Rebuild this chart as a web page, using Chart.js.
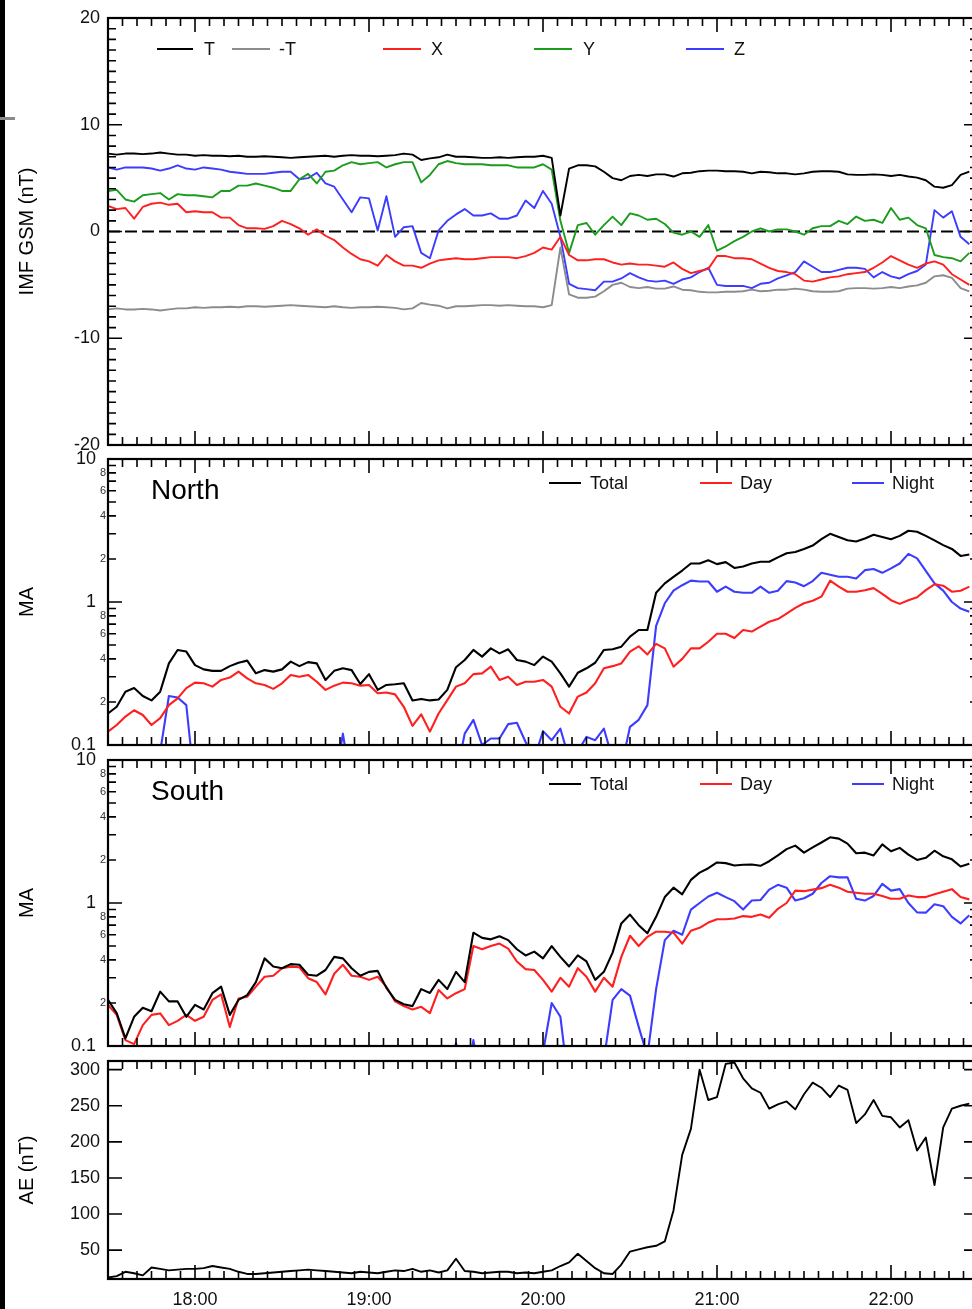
<!DOCTYPE html>
<html>
<head>
<meta charset="utf-8">
<title>IMF, field-aligned currents and AE</title>
<script src="https://cdn.jsdelivr.net/npm/chart.js@4.4.1/dist/chart.umd.min.js"></script>
<style>
  html, body { margin: 0; padding: 0; background: #fff; overflow: hidden; }
  #page { position: relative; width: 972px; height: 1309px; overflow: hidden; background: #fff; }
  #page canvas { position: absolute; left: 0; }
  .edge { position: absolute; left: 0; top: 0; width: 5px; height: 1309px; background: #000; }
  .nick { position: absolute; left: 0; top: 117px; width: 15px; height: 3px; background: #8a8a8a; }
</style>
</head>
<body>
<div id="page">
  <canvas id="imfChart" width="980" height="458" style="top:0"></canvas>
  <canvas id="northChart" width="980" height="310" style="top:446px"></canvas>
  <canvas id="southChart" width="980" height="308" style="top:748px"></canvas>
  <canvas id="aeChart" width="980" height="259" style="top:1050px"></canvas>
  <div class="edge"></div>
  <div class="nick"></div>
</div>
<script>
const FONT = "'Liberation Sans', Arial, Helvetica, sans-serif";

// time axis in minutes of day, samples every 3 min from 17:30
const T_START = 1050;
const T_END = 1350;
const T_STEP = 3;

const hourTicks = [1080, 1140, 1200, 1260, 1320];
const imfTicks = [-20, -10, 0, 10, 20];
const logTicks = [0.1, 0.2, 0.4, 0.6, 0.8, 1, 2, 4, 6, 8, 10];
const logMinor = [0.3, 0.5, 0.7, 0.9, 3, 5, 7, 9];
const logMajor = [0.1, 1, 10];
const aeTicks = [50, 100, 150, 200, 250, 300];

// IMF GSM components (nT)
const imfT = [
  7.3, 7.2, 7.3, 7.3, 7.25, 7.3, 7.4, 7.3, 7.2, 7.2,
  7.1, 7.15, 7.1, 7.1, 7.05, 7.1, 7.0, 7.0, 7.05, 7.0,
  6.95, 6.9, 6.95, 7.0, 7.05, 7.1, 7.0, 7.1, 7.15, 7.1,
  7.1, 7.05, 7.1, 7.15, 7.3, 7.2, 6.7, 6.85, 6.95, 7.2,
  7.0, 7.0, 6.95, 6.9, 6.9, 6.95, 6.9, 6.95, 7.0, 7.0,
  7.1, 6.9, 1.5, 5.9, 6.2, 6.2, 6.1, 5.6, 5.0, 4.8,
  5.2, 5.3, 5.2, 5.35, 5.35, 5.15, 5.45, 5.5, 5.65, 5.7,
  5.7, 5.65, 5.65, 5.6, 5.45, 5.6, 5.55, 5.45, 5.45, 5.35,
  5.45, 5.6, 5.65, 5.65, 5.6, 5.35, 5.3, 5.3, 5.35, 5.3,
  5.2, 5.3, 5.15, 5.05, 4.8, 4.2, 4.1, 4.35, 5.3, 5.6
];
const imfNegT = [
  -7.3, -7.2, -7.3, -7.3, -7.25, -7.3, -7.4, -7.3, -7.2, -7.2,
  -7.1, -7.15, -7.1, -7.1, -7.05, -7.1, -7.0, -7.0, -7.05, -7.0,
  -6.95, -6.9, -6.95, -7.0, -7.05, -7.1, -7.0, -7.1, -7.15, -7.1,
  -7.1, -7.05, -7.1, -7.15, -7.3, -7.2, -6.7, -6.85, -6.95, -7.2,
  -7.0, -7.0, -6.95, -6.9, -6.9, -6.95, -6.9, -6.95, -7.0, -7.0,
  -7.1, -6.9, -1.5, -5.9, -6.2, -6.2, -6.1, -5.6, -5.0, -4.8,
  -5.2, -5.3, -5.2, -5.35, -5.35, -5.15, -5.45, -5.5, -5.65, -5.7,
  -5.7, -5.65, -5.65, -5.6, -5.45, -5.6, -5.55, -5.45, -5.45, -5.35,
  -5.45, -5.6, -5.65, -5.65, -5.6, -5.35, -5.3, -5.3, -5.35, -5.3,
  -5.2, -5.3, -5.15, -5.05, -4.8, -4.2, -4.1, -4.35, -5.3, -5.6
];
const imfX = [
  2.4, 2.1, 2.2, 1.2, 2.3, 2.6, 2.7, 2.5, 2.6, 1.8,
  1.9, 1.8, 1.8, 1.3, 1.3, 0.6, 0.3, 0.3, 0.25, 0.5,
  1.0, 0.7, 0.3, -0.3, 0.2, -0.4, -0.8, -1.5, -2.1, -2.6,
  -2.8, -3.2, -2.2, -2.8, -3.2, -3.2, -3.4, -3.0, -2.7, -2.6,
  -2.5, -2.6, -2.6, -2.5, -2.4, -2.4, -2.4, -2.5, -2.3, -2.0,
  -1.5, -1.7, -0.5, -2.2, -2.7, -2.7, -2.6, -2.6, -2.9, -3.1,
  -3.0, -3.1, -3.1, -3.2, -3.3, -2.9, -3.5, -3.9, -3.7, -3.5,
  -2.3, -2.3, -2.5, -2.5, -2.6, -3.0, -3.4, -3.7, -3.8, -4.0,
  -4.6, -4.7, -4.5, -4.3, -4.2, -4.0, -3.9, -3.8, -3.4, -2.9,
  -2.3, -2.7, -3.1, -3.4, -3.0, -2.8, -3.1, -4.0, -4.5, -5.0
];
const imfY = [
  3.8, 3.9, 3.0, 2.8, 3.4, 3.5, 3.6, 3.0, 3.5, 3.4,
  3.4, 3.3, 3.2, 3.8, 3.8, 4.3, 4.3, 4.5, 4.3, 4.1,
  3.8, 3.8, 4.9, 5.4, 4.5, 5.6, 5.7, 6.2, 6.5, 6.3,
  6.4, 6.5, 6.0, 6.3, 6.5, 6.5, 4.6, 5.3, 6.3, 6.6,
  6.4, 6.3, 6.3, 6.3, 6.2, 6.2, 6.2, 6.0, 6.0, 6.0,
  6.3, 5.8, 1.0, -2.0, 0.6, 0.8, -0.3, 0.6, 1.4, 0.6,
  1.7, 1.5, 1.1, 1.2, 0.7, -0.1, -0.3, 0.0, -0.5, 0.6,
  -1.8, -1.4, -0.9, -0.5, 0.0, 0.3, 0.0, 0.2, 0.2, 0.0,
  -0.3, 0.3, 0.5, 0.5, 1.0, 0.7, 1.4, 1.0, 1.1, 0.8,
  2.2, 1.1, 1.3, 0.6, 0.3, -2.2, -2.4, -2.5, -2.8, -2.0
];
const imfZ = [
  6.0, 5.8, 6.0, 6.0, 6.0, 5.9, 5.7, 5.9, 6.2, 5.9,
  5.8, 6.0, 5.9, 5.8, 5.6, 5.5, 5.4, 5.4, 5.4, 5.5,
  5.6, 5.6, 4.9, 5.0, 5.5, 4.5, 4.2, 3.0, 1.8, 3.2,
  3.1, 0.1, 3.3, -0.5, 0.4, 0.5, -2.0, -2.5, 0.1, 1.0,
  1.6, 2.1, 1.5, 1.5, 1.7, 1.2, 1.2, 1.5, 2.9, 2.2,
  3.8, 2.6, -0.5, -4.9, -5.3, -5.4, -5.5, -4.7, -4.7, -4.4,
  -3.9, -4.3, -4.6, -4.7, -4.6, -4.9, -4.5, -4.3, -3.8, -3.4,
  -5.0, -5.1, -5.1, -5.1, -5.3, -4.9, -4.8, -4.4, -4.1, -3.8,
  -2.8, -3.3, -3.8, -3.8, -3.6, -3.4, -3.4, -3.5, -4.3, -3.8,
  -4.2, -4.4, -4.0, -3.7, -3.1, 2.0, 1.3, 1.9, -0.5, -1.2
];

// northern hemisphere currents (MA); values under 0.1 run off the axis
const northTotal = [
  0.166, 0.185, 0.236, 0.25, 0.22, 0.205, 0.236, 0.372, 0.462, 0.45,
  0.362, 0.338, 0.33, 0.33, 0.356, 0.376, 0.389, 0.317, 0.334, 0.326,
  0.338, 0.383, 0.356, 0.38, 0.372, 0.285, 0.33, 0.344, 0.334, 0.267,
  0.313, 0.243, 0.263, 0.266, 0.27, 0.205, 0.21, 0.205, 0.208, 0.243,
  0.35, 0.393, 0.462, 0.415, 0.474, 0.437, 0.467, 0.393, 0.383, 0.362,
  0.415, 0.383, 0.317, 0.256, 0.32, 0.344, 0.376, 0.462, 0.467, 0.487,
  0.573, 0.637, 0.637, 1.16, 1.35, 1.5, 1.66, 1.86, 1.86, 1.96,
  1.84, 1.9, 1.73, 1.77, 1.86, 1.91, 1.91, 2.05, 2.19, 2.24,
  2.35, 2.48, 2.75, 3.0, 2.85, 2.7, 2.65, 2.78, 2.95, 2.85,
  2.75, 2.9, 3.15, 3.1, 2.9, 2.7, 2.5, 2.35, 2.1, 2.15
];
const northDay = [
  0.124, 0.138, 0.158, 0.175, 0.162, 0.138, 0.154, 0.19, 0.212, 0.25,
  0.273, 0.27, 0.256, 0.285, 0.296, 0.326, 0.292, 0.27, 0.263, 0.247,
  0.27, 0.309, 0.30, 0.309, 0.277, 0.243, 0.26, 0.273, 0.27, 0.26,
  0.263, 0.23, 0.233, 0.226, 0.185, 0.136, 0.164, 0.124, 0.166, 0.206,
  0.256, 0.27, 0.313, 0.317, 0.353, 0.285, 0.30, 0.263, 0.277, 0.277,
  0.285, 0.256, 0.185, 0.166, 0.218, 0.233, 0.27, 0.344, 0.356, 0.372,
  0.45, 0.49, 0.43, 0.51, 0.474, 0.353, 0.40, 0.474, 0.474, 0.527,
  0.6, 0.6, 0.56, 0.637, 0.621, 0.673, 0.728, 0.76, 0.83, 0.91,
  0.98, 1.02, 1.09, 1.41, 1.28, 1.18, 1.18, 1.21, 1.25, 1.14,
  1.03, 0.97, 1.03, 1.08, 1.21, 1.33, 1.3, 1.18, 1.2, 1.28
];
const northNight = [
  0.05, 0.05, 0.05, 0.05, 0.05, 0.05, 0.09, 0.22, 0.215, 0.19,
  0.05, 0.05, 0.05, 0.05, 0.05, 0.05, 0.05, 0.05, 0.05, 0.05,
  0.05, 0.05, 0.05, 0.05, 0.05, 0.05, 0.05, 0.12, 0.05, 0.05,
  0.05, 0.05, 0.05, 0.05, 0.05, 0.05, 0.05, 0.05, 0.05, 0.05,
  0.06, 0.12, 0.15, 0.10, 0.111, 0.111, 0.14, 0.143, 0.105, 0.08,
  0.125, 0.108, 0.13, 0.08, 0.09, 0.114, 0.108, 0.13, 0.08, 0.07,
  0.134, 0.15, 0.19, 0.68, 0.98, 1.2, 1.31, 1.41, 1.39, 1.39,
  1.18, 1.28, 1.18, 1.16, 1.16, 1.28, 1.16, 1.2, 1.4, 1.37,
  1.29, 1.4, 1.6, 1.55, 1.5, 1.5, 1.46, 1.67, 1.7, 1.6,
  1.72, 1.86, 2.17, 2.02, 1.65, 1.35, 1.2, 1.0, 0.9, 0.856
];

// southern hemisphere currents (MA)
const southTotal = [
  0.21, 0.17, 0.113, 0.16, 0.185, 0.175, 0.24, 0.205, 0.205, 0.16,
  0.194, 0.18, 0.234, 0.26, 0.165, 0.21, 0.227, 0.28, 0.41, 0.36,
  0.35, 0.374, 0.37, 0.315, 0.31, 0.34, 0.42, 0.41, 0.35, 0.31,
  0.33, 0.335, 0.255, 0.21, 0.196, 0.19, 0.25, 0.235, 0.29, 0.25,
  0.33, 0.28, 0.62, 0.57, 0.557, 0.585, 0.55, 0.475, 0.43, 0.457,
  0.41, 0.5, 0.42, 0.36, 0.43, 0.39, 0.29, 0.33, 0.45, 0.72,
  0.83, 0.7, 0.614, 0.8, 1.1, 1.28, 1.15, 1.45, 1.63, 1.75,
  1.92, 1.9, 1.83, 1.85, 1.86, 1.82, 1.96, 2.15, 2.38, 2.52,
  2.25, 2.45, 2.65, 2.88, 2.82, 2.6, 2.23, 2.25, 2.15, 2.57,
  2.3, 2.43, 2.18, 2.0, 2.07, 2.32, 2.12, 2.02, 1.8, 1.88
];
const southDay = [
  0.194, 0.165, 0.11, 0.103, 0.14, 0.165, 0.169, 0.14, 0.15, 0.165,
  0.15, 0.16, 0.21, 0.23, 0.136, 0.215, 0.221, 0.26, 0.305, 0.31,
  0.35, 0.359, 0.355, 0.298, 0.28, 0.23, 0.32, 0.37, 0.31, 0.305,
  0.29, 0.305, 0.26, 0.205, 0.19, 0.18, 0.188, 0.17, 0.246, 0.215,
  0.234, 0.25, 0.5, 0.475, 0.5, 0.52, 0.48, 0.39, 0.345, 0.34,
  0.29, 0.24, 0.3, 0.26, 0.35, 0.305, 0.24, 0.3, 0.26, 0.42,
  0.59, 0.5, 0.58, 0.63, 0.63, 0.62, 0.52, 0.64, 0.67, 0.73,
  0.77, 0.77, 0.78, 0.81, 0.8, 0.83, 0.79, 0.91, 1.0, 1.22,
  1.21, 1.24, 1.27, 1.34, 1.28, 1.2, 1.18, 1.16, 1.16, 1.12,
  1.07, 1.07, 1.13, 1.1, 1.1, 1.15, 1.2, 1.25, 1.1, 1.06
];
const southNight = [
  0.05, 0.05, 0.05, 0.05, 0.05, 0.05, 0.05, 0.05, 0.05, 0.05,
  0.05, 0.05, 0.05, 0.05, 0.05, 0.05, 0.05, 0.05, 0.05, 0.05,
  0.05, 0.05, 0.05, 0.05, 0.05, 0.05, 0.05, 0.05, 0.05, 0.05,
  0.05, 0.05, 0.05, 0.05, 0.05, 0.05, 0.05, 0.05, 0.05, 0.05,
  0.105, 0.05, 0.11, 0.05, 0.05, 0.05, 0.05, 0.05, 0.05, 0.06,
  0.09, 0.2, 0.16, 0.05, 0.05, 0.05, 0.05, 0.08, 0.21, 0.25,
  0.225, 0.136, 0.085, 0.25, 0.55, 0.64, 0.6, 0.9, 1.0, 1.11,
  1.18, 1.1, 1.03, 0.9, 1.04, 1.05, 1.24, 1.34, 1.28, 1.04,
  1.08, 1.16, 1.38, 1.54, 1.51, 1.51, 1.07, 1.04, 1.12, 1.36,
  1.22, 1.25, 1.0, 0.86, 0.856, 0.98, 0.95, 0.8, 0.72, 0.82
];

// AE index (nT)
const aeIndex = [
  12, 14, 20, 18, 15, 26, 24, 22, 23, 24,
  24, 25, 28, 26, 24, 20, 17, 17, 18, 19,
  20, 21, 22, 23, 22, 21, 20, 19, 18, 20,
  19, 18, 20, 22, 21, 24, 20, 22, 19, 22,
  38, 21, 20, 18, 19, 20, 20, 18, 19, 18,
  20, 22, 28, 33, 45, 35, 25, 18, 17, 30,
  48, 51, 54, 56, 62, 105, 182, 218, 300, 258,
  262, 308, 310, 288, 274, 268, 246, 252, 256, 245,
  266, 282, 275, 262, 278, 272, 226, 238, 258, 236,
  234, 220, 230, 188, 206, 140, 220, 246, 250, 253
];

const pts = values => values.map((v, i) => ({ x: T_START + T_STEP * i, y: v }));

function hhmm(m) {
  const h = Math.floor(m / 60), mm = m % 60;
  return String(h).padStart(2, '0') + ':' + String(mm).padStart(2, '0');
}

function lineSet(label, values, color, width) {
  return {
    label, data: pts(values), borderColor: color, borderWidth: width,
    pointRadius: 0, tension: 0, fill: false, borderJoinStyle: 'round'
  };
}

// inward tick marks on all four sides plus the box
const framePlugin = {
  id: 'frame',
  afterDatasetsDraw(chart, args, opts) {
    const { ctx, chartArea: a } = chart;
    const xs = chart.scales.x, ys = chart.scales.y;
    ctx.save();
    ctx.strokeStyle = '#000';
    ctx.lineWidth = 1.6;
    ctx.beginPath();
    for (let m = T_START; m <= T_END; m += 5) {
      const px = xs.getPixelForValue(m);
      const len = m % 60 === 0 ? 14 : 8;
      ctx.moveTo(px, a.top); ctx.lineTo(px, a.top + len);
      ctx.moveTo(px, a.bottom); ctx.lineTo(px, a.bottom - len);
    }
    (opts.yMarks || []).forEach(([v, len]) => {
      const py = ys.getPixelForValue(v);
      ctx.moveTo(a.left, py); ctx.lineTo(a.left + len, py);
      ctx.moveTo(a.right, py); ctx.lineTo(a.right - len, py);
    });
    ctx.stroke();
    ctx.lineWidth = 2.2;
    ctx.strokeRect(a.left, a.top, a.right - a.left, a.bottom - a.top);
    ctx.restore();
  }
};

// line-sample legend and panel caption
const keyPlugin = {
  id: 'key',
  afterDraw(chart, args, opts) {
    const { ctx, chartArea: a } = chart;
    ctx.save();
    if (opts.items) {
      const y = a.top + opts.dy;
      ctx.font = '18px ' + FONT;
      ctx.textBaseline = 'middle';
      ctx.textAlign = 'left';
      opts.items.forEach(([idx, x0, x1, tx]) => {
        const ds = chart.data.datasets[idx];
        ctx.strokeStyle = ds.borderColor;
        ctx.lineWidth = 2;
        ctx.beginPath(); ctx.moveTo(x0, y); ctx.lineTo(x1, y); ctx.stroke();
        ctx.fillStyle = '#111';
        ctx.fillText(ds.label, tx, y + 1);
      });
    }
    if (opts.caption) {
      ctx.font = '28px ' + FONT;
      ctx.textBaseline = 'alphabetic';
      ctx.fillStyle = '#000';
      ctx.fillText(opts.caption, 151, a.top + 40);
    }
    ctx.restore();
  }
};

function xAxis(showLabels) {
  return {
    type: 'linear', min: T_START, max: T_END, display: showLabels,
    grid: { display: false, drawTicks: false },
    border: { display: false },
    afterBuildTicks: s => { s.ticks = hourTicks.map(v => ({ value: v })); },
    afterFit: s => { s.height = showLabels ? 30 : 0; s.paddingLeft = 0; s.paddingRight = 0; },
    ticks: {
      autoSkip: false, maxRotation: 0, padding: 10, color: '#111',
      font: { family: FONT, size: 18 },
      callback: v => hhmm(v)
    }
  };
}

function yAxis(title, extra) {
  return Object.assign({
    position: 'left',
    grid: { display: false, drawTicks: false },
    border: { display: false },
    afterFit: s => { s.width = 108; s.paddingTop = 0; s.paddingBottom = 0; },
    title: { display: true, text: title, color: '#000', font: { family: FONT, size: 20 }, padding: { top: 15, bottom: 0 } }
  }, extra);
}

function logAxis() {
  return yAxis('MA', {
    type: 'logarithmic', min: 0.1, max: 10,
    afterBuildTicks: s => { s.ticks = logTicks.map(v => ({ value: v })); },
    ticks: {
      autoSkip: false, padding: 2,
      color: c => logMajor.includes(c.tick.value) ? '#111' : '#333',
      font: c => ({ family: FONT, size: logMajor.includes(c.tick.value) ? 18 : 11 }),
      callback: v => logMajor.includes(v) ? v + '  ' : String(Math.round(v < 1 ? v * 10 : v))
    }
  });
}

const baseOptions = (padding) => ({
  responsive: false,
  animation: false,
  devicePixelRatio: 1,
  layout: { padding },
  plugins: { legend: { display: false }, tooltip: { enabled: false } }
});

const imfMarks = [];
for (let v = -20; v <= 20; v++) imfMarks.push([v, v % 10 === 0 ? 14 : 8]);
const logMarks = logTicks.concat(logMinor).map(v => [v, logMajor.includes(v) ? 14 : 8]);
const aeMarks = aeTicks.map(v => [v, 14]);

const RED = '#ff1f1f', GREEN = '#1c9c1c', BLUE = '#3c3cff', GREY = '#8c8c8c';

function renderImf() {
  const opts = baseOptions({ top: 18, bottom: 13, left: 0, right: 2 });
  opts.scales = {
    x: xAxis(false),
    y: yAxis('IMF GSM (nT)', {
      type: 'linear', min: -20, max: 20,
      afterBuildTicks: s => { s.ticks = imfTicks.map(v => ({ value: v })); },
      ticks: { autoSkip: false, padding: 8, color: '#111', font: { family: FONT, size: 18 } }
    })
  };
  opts.plugins.frame = { yMarks: imfMarks };
  opts.plugins.key = {
    dy: 31,
    items: [[0, 157, 193, 204], [1, 232, 270, 279], [2, 383, 421, 431], [3, 534, 572, 583], [4, 686, 724, 734]]
  };
  const zero = {
    label: '0', data: [{ x: T_START, y: 0 }, { x: T_END, y: 0 }],
    borderColor: '#000', borderWidth: 1.8, borderDash: [12, 5], pointRadius: 0
  };
  new Chart(document.getElementById('imfChart'), {
    type: 'line',
    data: {
      datasets: [
        lineSet('T', imfT, '#000', 1.9),
        lineSet('-T', imfNegT, GREY, 1.9),
        lineSet('X', imfX, RED, 1.9),
        lineSet('Y', imfY, GREEN, 1.9),
        lineSet('Z', imfZ, BLUE, 1.9),
        zero
      ]
    },
    options: opts,
    plugins: [framePlugin, keyPlugin]
  });
}

function renderCurrents(id, caption, total, day, night, padding) {
  const opts = baseOptions(Object.assign({ left: 0, right: 2 }, padding));
  opts.scales = { x: xAxis(false), y: logAxis() };
  opts.plugins.frame = { yMarks: logMarks };
  opts.plugins.key = {
    dy: 24, caption,
    items: [[0, 549, 581, 590], [1, 700, 732, 740], [2, 852, 884, 892]]
  };
  new Chart(document.getElementById(id), {
    type: 'line',
    data: {
      datasets: [
        lineSet('Total', total, '#000', 2.1),
        lineSet('Day', day, RED, 2.1),
        lineSet('Night', night, BLUE, 2.1)
      ]
    },
    options: opts,
    plugins: [framePlugin, keyPlugin]
  });
}

function renderAe() {
  const opts = baseOptions({ top: 11, bottom: 0, left: 0, right: 2 });
  opts.scales = {
    x: xAxis(true),
    y: yAxis('AE (nT)', {
      type: 'linear', min: 10, max: 312,
      afterBuildTicks: s => { s.ticks = aeTicks.map(v => ({ value: v })); },
      ticks: { autoSkip: false, padding: 8, color: '#111', font: { family: FONT, size: 18 } }
    })
  };
  opts.plugins.frame = { yMarks: aeMarks };
  new Chart(document.getElementById('aeChart'), {
    type: 'line',
    data: { datasets: [lineSet('AE', aeIndex, '#000', 1.9)] },
    options: opts,
    plugins: [framePlugin]
  });
}

renderImf();
renderCurrents('northChart', 'North', northTotal, northDay, northNight, { top: 13, bottom: 11 });
renderCurrents('southChart', 'South', southTotal, southDay, southNight, { top: 12, bottom: 10 });
renderAe();
</script>
</body>
</html>
